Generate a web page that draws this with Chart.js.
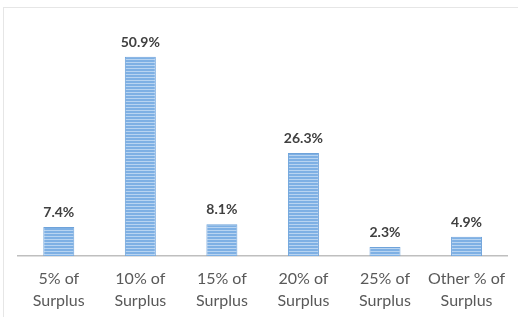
<!DOCTYPE html>
<html>
<head>
<meta charset="utf-8">
<script src="https://cdn.jsdelivr.net/npm/chart.js@4/dist/chart.umd.min.js"></script>
<style>
  html, body { margin: 0; padding: 0; background: #fff; }
  #wrap { position: relative; width: 518px; height: 317px; }
  #frame { position: absolute; left: 3px; top: 7px; right: 0; bottom: 0;
           border-top: 1px solid #e6e6e6; border-left: 1px solid #e6e6e6; }
  canvas { position: absolute; left: 0; top: 0; }
</style>
</head>
<body>
<div id="wrap">
  <div id="frame"></div>
  <canvas id="chart" width="518" height="317"></canvas>
</div>
<script>
// categorias e valores (%)
const categories = [
  ['5% of', 'Surplus'],
  ['10% of', 'Surplus'],
  ['15% of', 'Surplus'],
  ['20% of', 'Surplus'],
  ['25% of', 'Surplus'],
  ['Other % of', 'Surplus']
];
const values = [7.4, 50.9, 8.1, 26.3, 2.3, 4.9];

// padrão listrado das barras
const pc = document.createElement('canvas');
pc.width = 4; pc.height = 3;
const px = pc.getContext('2d');
px.fillStyle = '#7eb0e4';
px.fillRect(0, 0, 4, 3);
px.fillStyle = '#b8d4f1';
px.fillRect(0, 2, 4, 1);
const ctx = document.getElementById('chart').getContext('2d');
const stripes = ctx.createPattern(pc, 'repeat');

// rótulos acima das barras
const valueLabels = {
  id: 'valueLabels',
  afterDatasetsDraw(chart) {
    const c = chart.ctx;
    const meta = chart.getDatasetMeta(0);
    c.save();
    c.font = 'bold 14px Lato, "Open Sans", sans-serif';
    c.fillStyle = '#404040';
    c.textAlign = 'center';
    c.textBaseline = 'middle';
    meta.data.forEach((bar, i) => {
      c.fillText(values[i].toFixed(1) + '%', bar.x, bar.y - 14.5);
    });
    c.restore();
  }
};

new Chart(ctx, {
  type: 'bar',
  data: {
    labels: categories,
    datasets: [{
      data: values,
      backgroundColor: stripes,
      borderColor: '#6fa3da',
      borderWidth: 1,
      barPercentage: 0.38,
      categoryPercentage: 1
    }]
  },
  options: {
    responsive: false,
    animation: false,
    layout: { padding: { left: 18, right: 10, top: 21, bottom: 0 } },
    plugins: { legend: { display: false }, tooltip: { enabled: false } },
    scales: {
      y: { display: false, min: 0, max: 60 },
      x: {
        afterFit(scale) { scale.height = 61; },
        grid: { display: false, drawTicks: false },
        border: { display: true, color: '#bfbfbf', width: 1.5 },
        ticks: {
          color: '#595959',
          padding: 12,
          maxRotation: 0,
          minRotation: 0,
          autoSkip: false,
          font: { family: 'Lato, "Open Sans", sans-serif', size: 16, lineHeight: 1.35 }
        }
      }
    }
  },
  plugins: [valueLabels]
});
</script>
</body>
</html>
